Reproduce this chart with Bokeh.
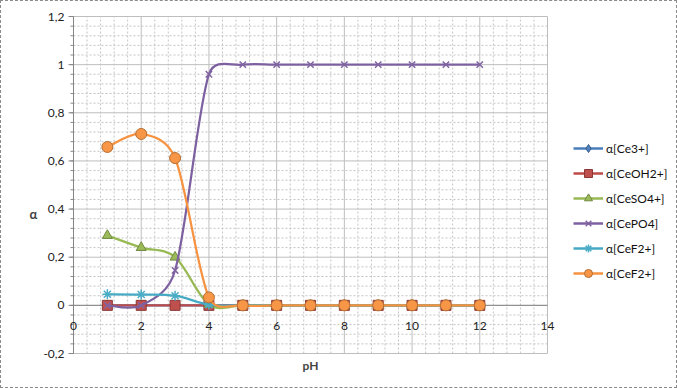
import numpy as np
from bokeh.plotting import figure
from bokeh.models import ColumnDataSource, Legend, LegendItem, Label, Range1d
from bokeh.embed import file_html
from bokeh.resources import INLINE

# ---- data ----
ph = [1, 2, 3, 4, 5, 6, 7, 8, 9, 10, 11, 12]
alpha_ce3 = [0.0, 0.0, 0.0, 0.0, 0.0, 0.0, 0.0, 0.0, 0.0, 0.0, 0.0, 0.0]
alpha_ceoh2 = [0.0, 0.0, 0.0, 0.0, 0.0, 0.0, 0.0, 0.0, 0.0, 0.0, 0.0, 0.0]
alpha_ceso4 = [0.29, 0.24, 0.20, 0.004, 0.0, 0.0, 0.0, 0.0, 0.0, 0.0, 0.0, 0.0]
alpha_cepo4 = [0.0, 0.0, 0.145, 0.96, 1.0, 1.0, 1.0, 1.0, 1.0, 1.0, 1.0, 1.0]
alpha_cef2_a = [0.046, 0.045, 0.04, 0.003, 0.0, 0.0, 0.0, 0.0, 0.0, 0.0, 0.0, 0.0]
alpha_cef2_b = [0.658, 0.712, 0.612, 0.033, 0.0, 0.0, 0.0, 0.0, 0.0, 0.0, 0.0, 0.0]

labels = ["α[Ce3+]", "α[CeOH2+]", "α[CeSO4+]", "α[CePO4]", "α[CeF2+]", "α[CeF2+]"]
values = [alpha_ce3, alpha_ceoh2, alpha_ceso4, alpha_cepo4, alpha_cef2_a, alpha_cef2_b]

x_ticks = [0, 2, 4, 6, 8, 10, 12, 14]
x_tick_labels = ["0", "2", "4", "6", "8", "10", "12", "14"]
y_ticks = [-0.2, 0.0, 0.2, 0.4, 0.6, 0.8, 1.0, 1.2]
y_tick_labels = ["-0,2", "0", "0,2", "0,4", "0,6", "0,8", "1", "1,2"]
x_axis_title = "pH"
y_axis_title = "α"

# ---- styles ----
line_colors = ["#4A7EBB", "#BE4B48", "#98B954", "#7D60A0", "#46AAC5", "#F69240"]
fill_colors = ["#4F81BD", "#C0504D", "#9BBB59", "#8064A2", "#4BACC6", "#F79646"]
edge_colors = ["#385D8A", "#8C3836", "#71893F", "#8064A2", "#4BACC6", "#B66D31"]
markers = ["diamond", "square", "triangle", "x", "asterisk", "circle"]
sizes = [10, 10, 10, 9, 10, 11]
font = "Lato"

W, H = 677, 388
# plot-area pixel box (left, right, top, bottom)
PL, PR, PT, PB = 72, 546, 15, 352
XMIN, XMAX, YMIN, YMAX = 0.0, 14.0, -0.2, 1.2
X_MINOR_STEP, Y_MINOR_STEP = 0.4, 0.04
sx = (PR - PL) / (XMAX - XMIN)
sy = (PB - PT) / (YMAX - YMIN)
x_range = Range1d(XMIN - PL / sx, XMAX + (W - PR) / sx)
y_range = Range1d(YMIN - (H - PB) / sy, YMAX + PT / sy)

p = figure(width=W, height=H, output_backend="svg", toolbar_location=None,
           x_range=x_range, y_range=y_range, min_border=0,
           min_border_left=0, min_border_right=0, min_border_top=0, min_border_bottom=0)
p.axis.visible = False
p.grid.visible = False
p.outline_line_color = None
p.background_fill_color = "white"
p.border_fill_color = "white"
p.styles = {"border": "1px dashed #8a8a8a", "box-sizing": "border-box"}

# ---- grid limited to the plot area ----
x_minor = [v for v in np.round(np.arange(XMIN, XMAX + 1e-9, X_MINOR_STEP), 3)
           if min(abs(v - t) for t in x_ticks) > 1e-6]
y_minor_all = list(np.round(np.arange(YMIN, YMAX + 1e-9, Y_MINOR_STEP), 3))
y_minor = [v for v in y_minor_all if min(abs(v - t) for t in y_ticks) > 1e-6]

grid_minor_color = "#C4C4C4"
grid_major_color = "#BEBEBE"
p.segment(x0=x_minor, x1=x_minor, y0=[YMIN] * len(x_minor), y1=[YMAX] * len(x_minor),
          line_color=grid_minor_color, line_dash="2 2", line_width=1)
p.segment(x0=[XMIN] * len(y_minor), x1=[XMAX] * len(y_minor), y0=y_minor, y1=y_minor,
          line_color=grid_minor_color, line_dash="2 2", line_width=1)
p.segment(x0=x_ticks, x1=x_ticks, y0=[YMIN] * len(x_ticks), y1=[YMAX] * len(x_ticks),
          line_color=grid_major_color, line_width=1)
p.segment(x0=[XMIN] * len(y_ticks), x1=[XMAX] * len(y_ticks), y0=y_ticks, y1=y_ticks,
          line_color=grid_major_color, line_width=1)

# axis lines (x=0 and y=0)
p.segment(x0=[0, XMIN], x1=[0, XMAX], y0=[YMIN, 0], y1=[YMAX, 0],
          line_color="#868686", line_width=1)

# y-axis tick marks
p.ray(x=[0] * len(y_minor_all), y=y_minor_all, length=3, length_units="screen",
      angle=np.pi, line_color="#868686", line_width=1)
p.ray(x=[0] * len(y_ticks), y=y_ticks, length=5, length_units="screen",
      angle=np.pi, line_color="#868686", line_width=1)

# tick labels
p.text(x=[0] * len(y_ticks), y=y_ticks, text=y_tick_labels, x_offset=-9,
       text_align="right", text_baseline="middle", text_font={"value": font},
       text_font_size="12px", text_color="#222222")
p.text(x=x_ticks, y=[0] * len(x_ticks), text=x_tick_labels, y_offset=21,
       text_align="center", text_baseline="middle", text_font={"value": font},
       text_font_size="12px", text_color="#222222")


# smoothed lines (Excel-like bezier, handle lengths limited in pixel space)
def bezier_cols(xs, ys):
    P = np.column_stack([np.asarray(xs, float) * sx, np.asarray(ys, float) * sy])
    n = len(P)
    d = {k: [] for k in ("x0", "y0", "x1", "y1", "cx0", "cy0", "cx1", "cy1")}
    for i in range(n - 1):
        p0 = P[i - 1] if i > 0 else P[i]
        p1 = P[i]
        p2 = P[i + 1]
        p3 = P[i + 2] if i + 2 < n else P[i + 1]
        half = np.hypot(*(p2 - p1)) / 2.0
        v1 = (p2 - p0) / 6.0
        v2 = (p3 - p1) / 6.0
        l1, l2 = np.hypot(*v1), np.hypot(*v2)
        if l1 > half and l1 > 0:
            v1 = v1 * half / l1
        if l2 > half and l2 > 0:
            v2 = v2 * half / l2
        c1 = p1 + v1
        c2 = p2 - v2
        d["x0"].append(p1[0] / sx); d["y0"].append(p1[1] / sy)
        d["x1"].append(p2[0] / sx); d["y1"].append(p2[1] / sy)
        d["cx0"].append(c1[0] / sx); d["cy0"].append(c1[1] / sy)
        d["cx1"].append(c2[0] / sx); d["cy1"].append(c2[1] / sy)
    return d


items = []
for lab, vals, lc, fc, ec, mk, sz in zip(labels, values, line_colors, fill_colors,
                                         edge_colors, markers, sizes):
    bsrc = ColumnDataSource(bezier_cols(ph, vals))
    p.bezier(x0="x0", y0="y0", x1="x1", y1="y1", cx0="cx0", cy0="cy0",
             cx1="cx1", cy1="cy1", source=bsrc, line_color=lc, line_width=2.25)
    sc = p.scatter(ph, vals, marker=mk, size=sz, fill_color=fc, line_color=ec,
                   line_width=1.5 if mk in ("x", "asterisk") else 1)
    # single-point line: invisible in the plot, gives the legend its line sample
    leg_line = p.line(x=[ph[0]], y=[vals[0]], line_color=lc, line_width=2.5)
    items.append(LegendItem(label=lab, renderers=[leg_line, sc]))

legend = Legend(items=items, location=(572, 106), orientation="vertical",
                glyph_width=30, glyph_height=20, label_height=20, spacing=5,
                padding=0, margin=0, label_standoff=3,
                label_text_font=font, label_text_font_size="12px",
                label_text_color="#111111",
                border_line_color=None, background_fill_alpha=0)
p.add_layout(legend, "center")

p.add_layout(Label(x=32, y=H - 212, x_units="screen", y_units="screen", text=y_axis_title,
                   text_font=font, text_font_style="bold", text_font_size="13px",
                   text_align="center", text_baseline="middle"))
p.add_layout(Label(x=(PL + PR) / 2, y=H - 364, x_units="screen", y_units="screen",
                   text=x_axis_title, text_font=font, text_font_style="bold",
                   text_font_size="12px", text_align="center", text_baseline="middle"))

open("out.html", "w").write(file_html(p, INLINE))
